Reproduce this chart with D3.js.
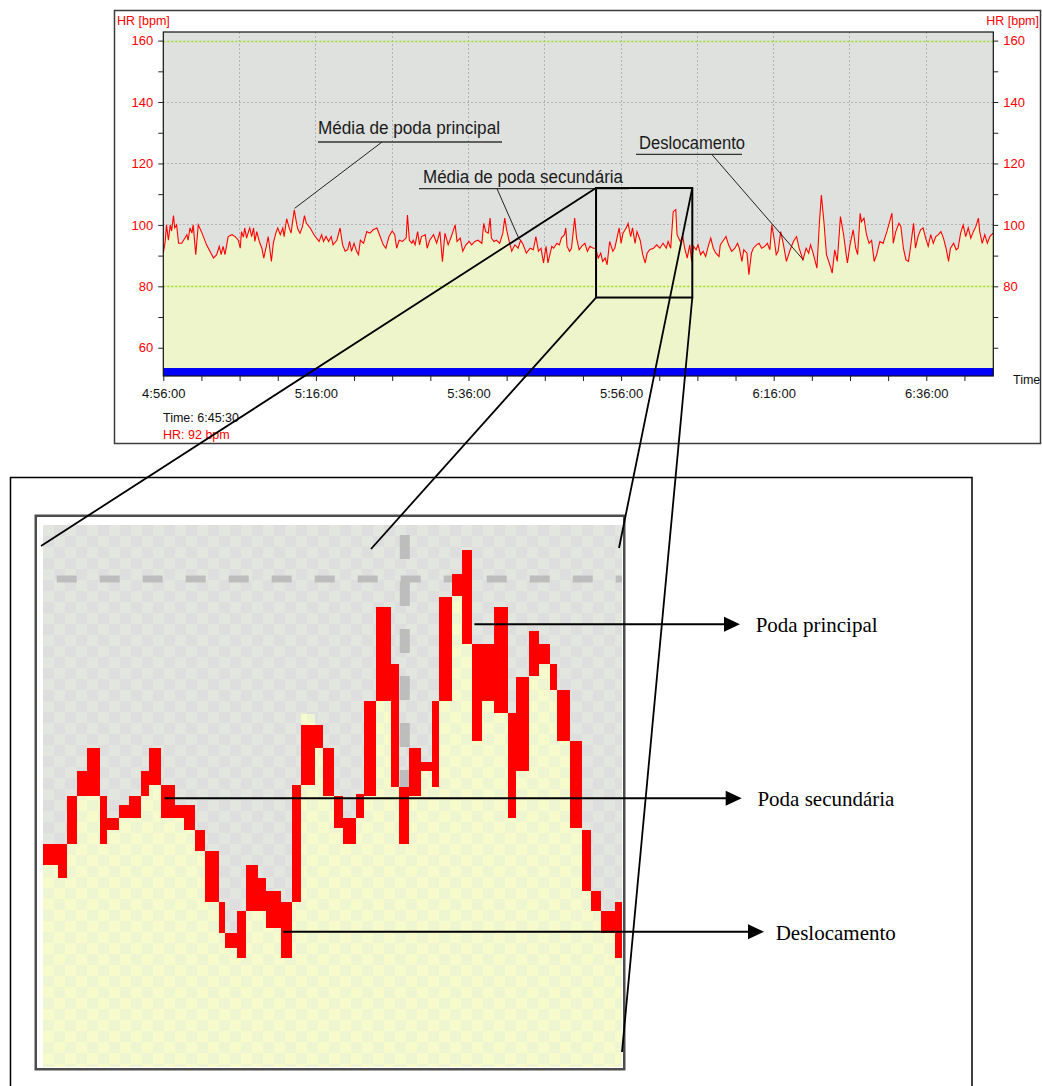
<!DOCTYPE html>
<html>
<head>
<meta charset="utf-8">
<script src="https://cdn.jsdelivr.net/npm/d3@7/dist/d3.min.js"></script>
<style>
  body { margin: 0; background: #fff; }
  svg { display: block; }
</style>
</head>
<body>
<svg id="chart" width="1042" height="1086"></svg>
<script>
// ---------------------------------------------------------------------------
// Heart-rate recording: [seconds after 4:56:00, bpm]
const hrSamples = [
  [0,90.8],[15,94.6],[25,100],[40,95],[55,100],[65,98],[80,103],[90,99],[105,100],[120,94],
  [145,94],[170,95.7],[185,96.8],[195,95],[210,99],[225,97.3],[235,100],[255,90.3],[275,100],[300,97.8],
  [340,93.5],[395,89.2],[420,90.3],[440,93],[455,90.3],[470,93],[485,90.3],[510,96.2],[540,96.8],[565,96.2],
  [590,95],[605,92.4],[615,97.8],[630,96],[640,99],[655,95.7],[670,97.8],[680,99],[695,96.2],[710,99],
  [720,94.6],[735,97.8],[755,94.6],[775,92.4],[790,89.2],[810,93],[825,96.2],[840,91.4],[850,88.1],[865,94],
  [885,97.3],[900,99],[920,96.8],[940,99],[950,96.2],[970,102],[990,99],[1005,97.3],[1015,100.5],[1030,104.9],
  [1050,100],[1060,98.4],[1075,97.3],[1095,99.5],[1110,103],[1125,100.5],[1155,99],[1185,96.8],[1205,95.7],[1225,94.6],
  [1245,96.8],[1260,94.6],[1280,96.2],[1300,94.6],[1320,96.2],[1335,93.5],[1365,95],[1390,99],[1410,93.5],[1430,91.4],
  [1450,91.9],[1465,94.6],[1480,91.4],[1500,94],[1520,91.4],[1535,90.3],[1550,95],[1575,94],[1600,97.8],[1625,97.3],
  [1650,98.4],[1680,99],[1700,96.8],[1730,93.5],[1750,92.4],[1775,96.2],[1800,98],[1820,96.8],[1835,92.4],[1855,95],
  [1880,94.6],[1910,95.7],[1920,103.2],[1935,95],[1955,94],[1965,95],[1980,93.5],[2000,97.8],[2015,93.5],[2030,96.2],
  [2060,96.8],[2075,92.4],[2095,95],[2125,96.8],[2150,94],[2175,97.8],[2195,88],[2215,97.3],[2240,93.5],[2265,96.2],
  [2295,100],[2310,94.6],[2335,95.7],[2355,91.4],[2380,93.5],[2405,94.6],[2425,93.5],[2450,94.6],[2475,95],[2505,94],
  [2520,100.5],[2535,97.8],[2555,97.3],[2570,102.2],[2580,95.7],[2600,94.6],[2620,95],[2645,94],[2670,97.3],[2685,102.2],
  [2700,98.4],[2720,94.6],[2740,91.4],[2765,93.5],[2790,92.4],[2810,95],[2830,93.5],[2855,90.8],[2885,92.4],[2910,91.9],
  [2930,96.2],[2950,91.4],[2970,92.4],[2990,87.6],[3010,93],[3025,87.6],[3055,93],[3070,92.4],[3095,94],[3115,93.5],
  [3130,95.7],[3155,96.8],[3165,99],[3175,93],[3195,91.4],[3210,92.4],[3235,102.2],[3250,95.7],[3270,91.9],[3290,93],
  [3315,94],[3335,91.4],[3355,93],[3380,92.4],[3400,92.4],[3420,89.2],[3440,90.8],[3455,88.1],[3475,89.2],[3490,87],
  [3510,94.6],[3535,91.4],[3550,92.4],[3570,96.2],[3585,99],[3600,94],[3615,97.3],[3640,99],[3655,100.5],[3675,96.2],
  [3690,99],[3710,94],[3725,97.8],[3750,95],[3770,90.3],[3790,87.6],[3805,90.8],[3825,91.9],[3855,92.4],[3880,93.5],
  [3905,92.4],[3930,94],[3955,92.4],[3970,94.6],[3990,92.4],[4010,104.3],[4030,105],[4040,96.8],[4065,94.6],[4085,96.2],
  [4100,92.4],[4120,89.2],[4140,93.5],[4155,88.1],[4170,93],[4190,91.9],[4205,93.5],[4225,90.3],[4245,91.4],[4265,89.7],
  [4285,93],[4305,95.7],[4325,92.4],[4345,90.8],[4370,89.7],[4380,93.5],[4405,95],[4425,96.2],[4445,93.5],[4470,91.4],
  [4495,92.4],[4515,94],[4530,92.4],[4550,88.1],[4565,91.9],[4590,90.8],[4605,83.8],[4625,90.8],[4640,92.4],[4665,93.5],
  [4685,94],[4705,92.4],[4730,93],[4750,94],[4770,91.9],[4785,100],[4805,95],[4820,90.3],[4835,91.4],[4855,97.8],
  [4875,94],[4900,88.1],[4930,91.9],[4955,94.6],[4980,96.2],[5000,92.4],[5030,88.6],[5055,92.4],[5075,90.8],[5090,93.5],
  [5110,90.8],[5140,85.9],[5160,101],[5175,109.7],[5195,101],[5215,90.3],[5245,86.5],[5260,84.3],[5280,91.9],[5300,88.1],
  [5325,102.7],[5350,96.8],[5370,90.3],[5380,87.6],[5400,93.5],[5425,98.4],[5445,92.4],[5460,90.3],[5480,103.8],[5490,101],
  [5510,102.2],[5530,96.8],[5550,94],[5570,95],[5590,88.1],[5610,90.3],[5635,94.6],[5660,94],[5690,97.8],[5705,100],
  [5730,103.8],[5740,94],[5760,97.8],[5785,100.5],[5800,99.5],[5820,92.4],[5840,88.6],[5860,88.1],[5875,92.4],[5900,100.5],
  [5915,92.4],[5935,96.2],[5955,98.4],[5975,99],[5995,95.7],[6015,93],[6035,96.8],[6055,94],[6075,96.2],[6095,96.8],
  [6115,97.8],[6135,95.7],[6155,92.4],[6175,88.1],[6190,92.4],[6215,94],[6235,91.9],[6250,92.4],[6270,97.3],[6290,100],
  [6310,96.2],[6330,99],[6350,95.7],[6370,97.8],[6390,99.5],[6410,102.2],[6420,97.8],[6440,94],[6460,96.8],[6480,94],
  [6500,96.2],[6525,97.3]
];

// Axis ticks
const hrTicks = [60, 70, 80, 90, 100, 110, 120, 130, 140, 150, 160];
const hrLabelsLeft = [60, 80, 100, 120, 140, 160];
const hrLabelsRight = [80, 100, 120, 140, 160];
const timeLabels = ["4:56:00", "5:16:00", "5:36:00", "5:56:00", "6:16:00", "6:36:00"];
const recordLengthSec = 6527;

// Reference lines
const zoneLines = [80, 160];          // green limits
const gridHr = [100, 120, 140];       // grey grid

// Callouts on the full recording
const calloutText = ["Média de poda principal", "Média de poda secundária", "Deslocamento"];
const calloutSec = [1033, 2801, 5033];
const calloutBpm = [105.4, 95.1, 88.6];

// Cursor read-out
const cursorTime = "Time: 6:45:30";
const cursorHr = "HR: 92 bpm";

// Magnified window (seconds after 4:56:00, bpm range)
const zoomStartSec = 3403;
const zoomEndSec = 4160;
const zoomLowBpm = 76.35;
const zoomHighBpm = 112;

// Magnified view: pixel columns (seconds into window, trace top/bottom in bpm)
const insetStart = [0,19,31,44,58,75,84,99,113,128,139,154,172,185,199,212,230,238,253,266,
  281,292,311,326,337,355,366,381,392,409,420,435,455,466,479,494,509,518,535,548,
  561,574,589,608,618,635,648,663,672,689,705,716,729,748];
const insetHigh = [82.8,82.8,85.9,87.5,89.0,85.9,84.5,85.3,85.9,87.5,89.0,86.6,85.3,85.3,83.7,82.3,79.0,77.0,78.4,81.4,
  80.6,79.7,79.0,86.6,90.5,90.5,89.0,85.9,84.5,86.0,92.1,98.2,94.5,86.5,89.0,88.1,92.1,98.8,100.3,101.9,
  95.8,95.8,98.2,91.3,93.6,96.6,95.8,94.5,92.8,89.5,83.7,79.7,78.4,79.0];
const insetLow = [81.4,80.6,82.8,85.9,85.9,82.8,83.7,84.5,84.5,85.9,86.6,84.5,84.5,83.7,82.3,79.0,77.0,76.0,75.4,78.4,
  78.4,77.3,75.4,79.0,86.6,89.0,85.9,83.8,82.8,84.5,85.9,92.1,86.5,82.8,85.9,87.5,86.5,92.1,98.9,95.8,
  89.5,92.1,91.3,84.5,87.5,93.7,94.5,92.8,89.5,83.8,79.7,78.4,77.0,75.4];
const insetFillTop = insetLow.map((v, i) => i === 24 ? 91.2 : v);
const insetWindowSec = 757;
const insetGridBpm = 100;
const insetGridSec = 473;

// Magnified-view labels
const insetLabels = ["Poda principal", "Poda secundária", "Deslocamento"];
const insetAnchorSec = [564, 159, 314];
const insetAnchorBpm = [97.06, 85.76, 77.08];

// ---------------------------------------------------------------------------
const SANS = "'Liberation Sans', Arial, sans-serif";
const SERIF = "'Liberation Serif', 'Times New Roman', serif";
const svg = d3.select("#chart");

const t0 = new Date(2000, 0, 1, 4, 56, 0);
const at = s => d3.timeSecond.offset(t0, s);

const plot = { left: 163.3, right: 993.3, top: 32, bottom: 376 };
const x = d3.scaleTime().domain([t0, at(recordLengthSec)]).range([plot.left, plot.right]);
const y = d3.scaleLinear().domain([50.8, 162.8]).range([plot.bottom, plot.top]);

// Panel frame
svg.append("rect").attr("x", 114.5).attr("y", 10.5).attr("width", 926).attr("height", 433)
  .attr("fill", "#fff").attr("stroke", "#3c3c3c").attr("stroke-width", 1.5);

// Plot background
svg.append("rect").attr("x", plot.left).attr("y", plot.top)
  .attr("width", plot.right - plot.left).attr("height", plot.bottom - plot.top)
  .attr("fill", "#dfe1de");

// Grey grid: every 10 min and at 100/120/140 bpm
const gridTimes = d3.range(600, recordLengthSec, 600).map(at);
svg.append("g").selectAll("line").data(gridTimes).join("line")
  .attr("x1", d => x(d)).attr("x2", d => x(d))
  .attr("y1", plot.top).attr("y2", plot.bottom)
  .attr("stroke", "#b3b3b3").attr("stroke-width", 1).attr("stroke-dasharray", "2,2")
  .attr("shape-rendering", "crispEdges");
svg.append("g").selectAll("line").data(gridHr).join("line")
  .attr("x1", plot.left).attr("x2", plot.right)
  .attr("y1", d => y(d)).attr("y2", d => y(d))
  .attr("stroke", "#b3b3b3").attr("stroke-width", 1).attr("stroke-dasharray", "2,2")
  .attr("shape-rendering", "crispEdges");

// Area under the heart-rate trace
const area = d3.area()
  .x(d => x(at(d[0]))).y0(y(50.8)).y1(d => y(d[1]));
svg.append("path").datum(hrSamples).attr("d", area).attr("fill", "#eef5cb");

// Zone limits
svg.append("g").selectAll("line").data(zoneLines).join("line")
  .attr("x1", plot.left).attr("x2", plot.right)
  .attr("y1", d => Math.round(y(d)) + 0.5).attr("y2", d => Math.round(y(d)) + 0.5)
  .attr("stroke", "#96e01e").attr("stroke-width", 1.3).attr("stroke-dasharray", "2,2");

// Heart-rate trace
const line = d3.line().x(d => x(at(d[0]))).y(d => y(d[1]));
svg.append("path").datum(hrSamples).attr("d", line)
  .attr("fill", "none").attr("stroke", "#ff0000").attr("stroke-width", 1.1)
  .attr("stroke-linejoin", "miter");

// Blue selection band along the bottom
svg.append("rect").attr("x", plot.left).attr("y", y(53.4))
  .attr("width", plot.right - plot.left).attr("height", y(50.8) - y(53.4))
  .attr("fill", "#0000ff");

// Plot frame
svg.append("rect").attr("x", plot.left).attr("y", plot.top)
  .attr("width", plot.right - plot.left).attr("height", plot.bottom - plot.top)
  .attr("fill", "none").attr("stroke", "#111").attr("stroke-width", 1.2);

// Axes
function styleAxis(g, color) {
  g.select(".domain").remove();
  g.selectAll(".tick line").attr("stroke", "#222");
  g.selectAll(".tick text").attr("fill", color)
    .style("font-family", SANS).style("font-size", "13px");
}
svg.append("g").attr("transform", `translate(${plot.left},0)`)
  .call(d3.axisLeft(y).tickValues(hrTicks).tickSize(5).tickPadding(5)
    .tickFormat(d => hrLabelsLeft.includes(d) ? d : ""))
  .call(g => styleAxis(g, "#ff0000"));
svg.append("g").attr("transform", `translate(${plot.right},0)`)
  .call(d3.axisRight(y).tickValues(hrTicks).tickSize(5).tickPadding(5)
    .tickFormat(d => hrLabelsRight.includes(d) ? d : ""))
  .call(g => styleAxis(g, "#ff0000"));
const minorTimes = d3.range(0, recordLengthSec, 300).map(at);
svg.append("g").attr("transform", `translate(0,${plot.bottom})`)
  .call(d3.axisBottom(x).tickValues(minorTimes).tickSize(5).tickPadding(7.5)
    .tickFormat((d, i) => i % 4 === 0 ? timeLabels[i / 4] : ""))
  .call(g => styleAxis(g, "#111"));

// Axis titles
const txt = (sel, s, xx, yy, opts = {}) => sel.append("text").text(s).attr("x", xx).attr("y", yy)
  .attr("fill", opts.fill || "#111").attr("text-anchor", opts.anchor || "start")
  .style("font-family", opts.font || SANS).style("font-size", (opts.size || 13) + "px");
txt(svg, "HR [bpm]", 117, 24.5, { fill: "#ff0000", size: 12.5 });
txt(svg, "HR [bpm]", 1039, 24.5, { fill: "#ff0000", size: 12.5, anchor: "end" });
txt(svg, "Time", 1013, 383.5, { size: 12.5 });
txt(svg, cursorTime, 163, 421.5, { size: 12.5 });
txt(svg, cursorHr, 163, 438.5, { size: 12.5, fill: "#ff0000" });

// Callouts with underlined captions and leader lines
const calloutLayout = [
  { tx: 318, ty: 134.3, w: 182, u0: 318, u1: 502, uy: 142, lx: 382 },
  { tx: 423, ty: 183.3, w: 200, u0: 419, u1: 629, uy: 188.7, lx: 497 },
  { tx: 639, ty: 149.3, w: 106, u0: 636, u1: 742, uy: 154.3, lx: 711.7 }
];
calloutText.forEach((label, i) => {
  const L = calloutLayout[i];
  txt(svg, label, L.tx, L.ty, { size: 17.5 }).attr("fill", "#1a1a1a")
    .attr("textLength", L.w).attr("lengthAdjust", "spacingAndGlyphs");
  svg.append("line").attr("x1", L.u0).attr("x2", L.u1).attr("y1", L.uy).attr("y2", L.uy)
    .attr("stroke", "#333").attr("stroke-width", 1.3);
  svg.append("line").attr("x1", L.lx).attr("y1", L.uy)
    .attr("x2", x(at(calloutSec[i]))).attr("y2", y(calloutBpm[i]))
    .attr("stroke", "#222").attr("stroke-width", 1);
});

// ---------------------------------------------------------------------------
// Magnified view
svg.append("rect").attr("x", 10.5).attr("y", 477.5).attr("width", 961.5).attr("height", 640)
  .attr("fill", "#fff").attr("stroke", "#000").attr("stroke-width", 1.5);

const inset = { left: 43, right: 622, top: 525, bottom: 1067 };
const xi = d3.scaleLinear().domain([0, insetWindowSec]).range([inset.left, inset.right]);
const yi = d3.scaleLinear().domain([68.3, 103.5]).range([inset.bottom, inset.top]);

const defs = svg.append("defs");
function checker(id, base, light) {
  const p = defs.append("pattern").attr("id", id).attr("patternUnits", "userSpaceOnUse")
    .attr("x", inset.left).attr("y", inset.top).attr("width", 22).attr("height", 22);
  p.append("rect").attr("width", 22).attr("height", 22).attr("fill", base);
  p.append("rect").attr("width", 11).attr("height", 11).attr("fill", light);
  p.append("rect").attr("x", 11).attr("y", 11).attr("width", 11).attr("height", 11).attr("fill", light);
}
checker("greyChk", "#dedede", "#e2e6df");
checker("yellowChk", "#eef5d1", "#f7fbcc");

svg.append("rect").attr("x", 35.75).attr("y", 515.75).attr("width", 588.5).attr("height", 553.5)
  .attr("fill", "#fff").attr("stroke", "#4d4d4d").attr("stroke-width", 2.5);
svg.append("rect").attr("x", inset.left).attr("y", inset.top)
  .attr("width", inset.right - inset.left).attr("height", inset.bottom - inset.top)
  .attr("fill", "url(#greyChk)");

// Enlarged grid lines
svg.append("line").attr("x1", inset.left).attr("x2", inset.right)
  .attr("y1", yi(insetGridBpm)).attr("y2", yi(insetGridBpm))
  .attr("stroke", "#bdbdbd").attr("stroke-width", 7)
  .attr("stroke-dasharray", "20 23").attr("stroke-dashoffset", -13.7);
svg.append("line").attr("x1", xi(insetGridSec)).attr("x2", xi(insetGridSec))
  .attr("y1", inset.top).attr("y2", inset.bottom)
  .attr("stroke", "#bdbdbd").attr("stroke-width", 10)
  .attr("stroke-dasharray", "24 23").attr("stroke-dashoffset", -10);

// Enlarged trace: one block per pixel column
const cols = insetStart.map((s, i) => ({
  x0: xi(s),
  x1: xi(i + 1 < insetStart.length ? insetStart[i + 1] : insetWindowSec),
  hi: insetHigh[i], lo: insetLow[i], fill: insetFillTop[i]
}));
svg.append("g").selectAll("rect").data(cols).join("rect")
  .attr("x", d => d.x0).attr("width", d => d.x1 - d.x0)
  .attr("y", d => yi(d.fill)).attr("height", d => inset.bottom - yi(d.fill))
  .attr("fill", "url(#yellowChk)").attr("shape-rendering", "crispEdges");
svg.append("g").selectAll("rect").data(cols).join("rect")
  .attr("x", d => d.x0).attr("width", d => d.x1 - d.x0)
  .attr("y", d => yi(d.hi)).attr("height", d => yi(d.lo) - yi(d.hi))
  .attr("fill", "#ff0000").attr("shape-rendering", "crispEdges");

// Arrows to the labels
const arrowTips = [740, 741.7, 764];
insetLabels.forEach((label, i) => {
  const ax = xi(insetAnchorSec[i]), ay = yi(insetAnchorBpm[i]);
  const tip = arrowTips[i];
  svg.append("line").attr("x1", ax).attr("y1", ay).attr("x2", tip - 10).attr("y2", ay)
    .attr("stroke", "#000").attr("stroke-width", 2);
  svg.append("path")
    .attr("d", `M${tip},${ay} L${tip - 16},${ay - 7.5} L${tip - 16},${ay + 7.5} Z`)
    .attr("fill", "#000");
  txt(svg, label, tip + 15.7 - (i === 2 ? 4 : 0), ay + 8, { font: SERIF, size: 21 }).attr("fill", "#000");
});

// Zoom box on the recording and its connector lines
const bx0 = x(at(zoomStartSec)), bx1 = x(at(zoomEndSec));
const by0 = y(zoomHighBpm), by1 = y(zoomLowBpm);
const connectors = [
  [bx0, by0, 41, 546],
  [bx0, by1, 371, 549],
  [bx1, by0, 619, 548],
  [bx1, by1, 622, 1052]
];
svg.append("rect").attr("x", bx0).attr("y", by0).attr("width", bx1 - bx0).attr("height", by1 - by0)
  .attr("fill", "none").attr("stroke", "#000").attr("stroke-width", 2);
svg.append("g").selectAll("line").data(connectors).join("line")
  .attr("x1", d => d[0]).attr("y1", d => d[1]).attr("x2", d => d[2]).attr("y2", d => d[3])
  .attr("stroke", "#000").attr("stroke-width", 1.8);
</script>
</body>
</html>
